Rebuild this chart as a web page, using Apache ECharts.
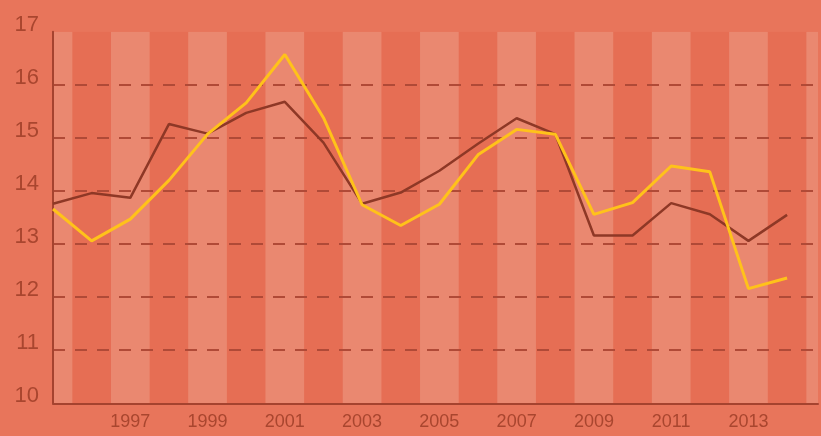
<!DOCTYPE html>
<html>
<head>
<meta charset="utf-8">
<script src="https://cdn.jsdelivr.net/npm/echarts@6/dist/echarts.min.js"></script>
<style>
html,body{margin:0;padding:0;background:#E8755B;}
#chart{width:821px;height:436px;}
</style>
</head>
<body>
<div id="chart"></div>
<script>
var years = [1995,1996,1997,1998,1999,2000,2001,2002,2003,2004,2005,2006,2007,2008,2009,2010,2011,2012,2013,2014];
var yellowSeries = [13.66,13.06,13.47,14.2,15.07,15.66,16.57,15.38,13.74,13.35,13.75,14.68,15.16,15.07,13.56,13.78,14.47,14.36,12.16,12.36];
var brownSeries = [13.76,13.96,13.87,15.26,15.08,15.47,15.68,14.91,13.76,13.97,14.38,14.89,15.37,15.07,13.16,13.16,13.77,13.56,13.06,13.55];
var stripeYears = [1995,1997,1999,2001,2003,2005,2007,2009,2011,2013,2015];
var bandYears = [1996,1998,2000,2002,2004,2006,2008,2010,2012,2014];
var xTickLabels = [1997,1999,2001,2003,2005,2007,2009,2011,2013];
var yTicks = [10,11,12,13,14,15,16,17];

function pairs(vals){ return years.map(function(y,i){ return [y, vals[i]]; }); }

function bandRenderer(color){
  return function(params, api){
    var y = api.value(0);
    var p1 = api.coord([y - 0.5, 17]);
    var p2 = api.coord([y + 0.5, 10]);
    var rect = echarts.graphic.clipRectByRect(
      {x: p1[0], y: p1[1], width: p2[0]-p1[0], height: p2[1]-p1[1]},
      {x: params.coordSys.x, y: params.coordSys.y, width: params.coordSys.width, height: params.coordSys.height}
    );
    return rect && {type: 'rect', shape: rect, style: {fill: color}};
  };
}

var chart = echarts.init(document.getElementById('chart'), null, {renderer:'canvas'});
var labelColor = '#A9462F';
chart.setOption({
  backgroundColor: '#E8755B',
  animation: false,
  grid: {left: 53, right: 0, top: 31.7, bottom: 32.7, containLabel: false},
  xAxis: {
    type: 'value', min: 1995, max: 2014.8, interval: 1, z: 4,
    axisLine: {show: true, lineStyle: {color: '#A5432F', width: 2}},
    axisTick: {show: false},
    splitLine: {show: false},
    axisLabel: {
      color: labelColor, fontSize: 18, fontFamily: 'Liberation Sans, Arial, sans-serif', margin: 10,
      formatter: function(v){ return xTickLabels.indexOf(v) >= 0 ? String(v) : ''; }
    }
  },
  yAxis: {
    type: 'value', min: 10, max: 17, interval: 1, z: 2,
    axisLine: {show: true, lineStyle: {color: '#A5432F', width: 2}},
    axisTick: {show: false},
    axisLabel: {
      color: labelColor, fontSize: 22, fontFamily: 'Liberation Sans, Arial, sans-serif', margin: 14,
      verticalAlign: 'bottom', lineHeight: 14,
      formatter: function(v){ return yTicks.indexOf(v) >= 0 ? String(v) : ''; }
    },
    splitLine: {show: true, showMaxLine: false, showMinLine: false, lineStyle: {color: '#B04A37', width: 2, type: [12,10]}}
  },
  series: [
    {
      type: 'custom', z: 1, silent: true, clip: true,
      data: bandYears.map(function(y){ return [y]; }),
      renderItem: bandRenderer('#E66E54'),
      encode: {x: 0}
    },
    {
      type: 'custom', z: 1, silent: true, clip: true,
      data: stripeYears.map(function(y){ return [y]; }),
      renderItem: bandRenderer('#EA8870'),
      encode: {x: 0}
    },
    {
      name: 'brown', type: 'line', z: 3, data: pairs(brownSeries),
      symbol: 'none', lineStyle: {color: '#8E3826', width: 2.5}
    },
    {
      name: 'yellow', type: 'line', z: 3, data: pairs(yellowSeries),
      symbol: 'none', lineStyle: {color: '#FFC21A', width: 3}
    }
  ]
});
</script>
</body>
</html>
